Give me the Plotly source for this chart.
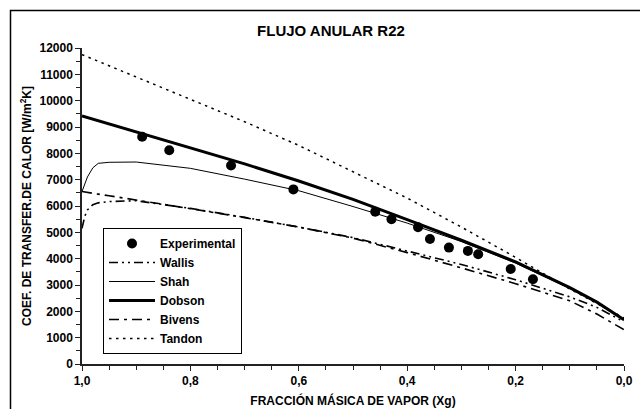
import plotly.graph_objects as go

# Experimental data
x_exp = [0.889, 0.839, 0.725, 0.610, 0.459, 0.429, 0.380, 0.358, 0.323, 0.288, 0.269, 0.209, 0.168]
y_exp = [8630, 8120, 7540, 6630, 5780, 5500, 5190, 4750, 4420, 4295, 4170, 3610, 3220]

# Correlation curves (common x grid)
x_model = [1.0, 0.995, 0.99, 0.98, 0.97, 0.95, 0.9, 0.8, 0.7, 0.6, 0.5, 0.4, 0.3, 0.2, 0.1, 0.05, 0.0]
y_wallis = [5150, 5600, 5850, 6050, 6120, 6170, 6200, 5910, 5570, 5200, 4800, 4300, 3780, 3200, 2550, 2150, 1600]
y_shah = [6550, 6850, 7100, 7450, 7620, 7660, 7670, 7430, 7020, 6580, 5980, 5350, 4650, 3830, 2870, 2330, 1660]
y_dobson = [9420, 9390, 9360, 9300, 9240, 9120, 8820, 8210, 7600, 6950, 6250, 5480, 4700, 3880, 2900, 2350, 1680]
y_bivens = [6550, 6530, 6510, 6480, 6450, 6390, 6230, 5900, 5560, 5200, 4780, 4230, 3650, 3050, 2400, 1900, 1300]
y_tandon = [11750, 11710, 11665, 11580, 11495, 11325, 10900, 10050, 9200, 8300, 7300, 6300, 5200, 4050, 2850, 2300, 1750]

FONT = "Liberation Sans, Arial, sans-serif"
BOLD = dict(family=FONT, size=12, color="black", weight="bold")

fig = go.Figure()
fig.add_trace(go.Scatter(x=x_exp, y=y_exp, mode="markers", name="Experimental",
                         marker=dict(color="black", size=10, symbol="circle")))
fig.add_trace(go.Scatter(x=x_model, y=y_wallis, mode="lines", name="Wallis",
                         line=dict(color="black", width=1.6, dash="9px,4px,2px,4px,2px,4px")))
fig.add_trace(go.Scatter(x=x_model, y=y_shah, mode="lines", name="Shah",
                         line=dict(color="black", width=1)))
fig.add_trace(go.Scatter(x=x_model, y=y_dobson, mode="lines", name="Dobson",
                         line=dict(color="black", width=3)))
fig.add_trace(go.Scatter(x=x_model, y=y_bivens, mode="lines", name="Bivens",
                         line=dict(color="black", width=1.6, dash="10px,5px,3px,5px")))
fig.add_trace(go.Scatter(x=x_model, y=y_tandon, mode="lines", name="Tandon",
                         line=dict(color="black", width=1.5, dash="2.5px,4.5px")))

L, R, T, B = 82, 16, 48, 45
W, H = 640, 409
pw, ph = W - L - R, H - T - B

fig.update_layout(
    width=W, height=H, autosize=False,
    margin=dict(l=L, r=R, t=T, b=B, pad=0, autoexpand=False),
    paper_bgcolor="white", plot_bgcolor="white",
    separators=",.",
    font=BOLD,
    title=dict(text="FLUJO ANULAR R22", font=dict(size=15, family=FONT, color="black", weight="bold"),
               xref="paper", x=(331 - L) / pw, xanchor="center",
               yref="container", y=1 - 31 / H, yanchor="middle"),
    showlegend=True,
    legend=dict(x=(103 - L) / pw, y=(T + ph - 354) / ph, xanchor="left", yanchor="bottom",
                bgcolor="white", bordercolor="black", borderwidth=1,
                font=BOLD, itemwidth=46, tracegroupgap=0),
    xaxis=dict(range=[1.0, 0.0], autorange=False, automargin=False, showgrid=False, zeroline=False,
               showline=True, linecolor="#222", linewidth=1.5,
               ticks="outside", ticklen=5, tickcolor="#222", tickwidth=1.2,
               tick0=0, dtick=0.2, tickformat=".1f",
               minor=dict(ticks="outside", ticklen=4, dtick=0.05, tickcolor="#222", tickwidth=1),
               tickfont=BOLD,
               title=dict(text="FRACCIÓN MÁSICA DE VAPOR (Xg)", font=BOLD, standoff=9)),
    yaxis=dict(range=[0, 12000], autorange=False, automargin=False, showgrid=False, zeroline=False,
               showline=True, linecolor="#222", linewidth=1.5,
               ticks="outside", ticklen=5, tickcolor="#222", tickwidth=1.2,
               tick0=0, dtick=1000, tickformat="d",
               minor=dict(ticks="outside", ticklen=4, dtick=500, tickcolor="#222", tickwidth=1),
               tickfont=BOLD,
               title=dict(text="COEF. DE TRANSFER.DE CALOR [W/m<sup>2</sup>K]", font=BOLD, standoff=5)),
)

# outer chart frame (partially cut by the image edge)
fig.add_shape(type="rect", xref="paper", yref="paper",
              x0=(10.5 - L) / pw, x1=(650 - L) / pw,
              y0=(T + ph - 420) / ph, y1=(T + ph - 10.5) / ph,
              line=dict(color="black", width=1.5), fillcolor="rgba(0,0,0,0)", layer="above")

fig.write_html("out.html")
